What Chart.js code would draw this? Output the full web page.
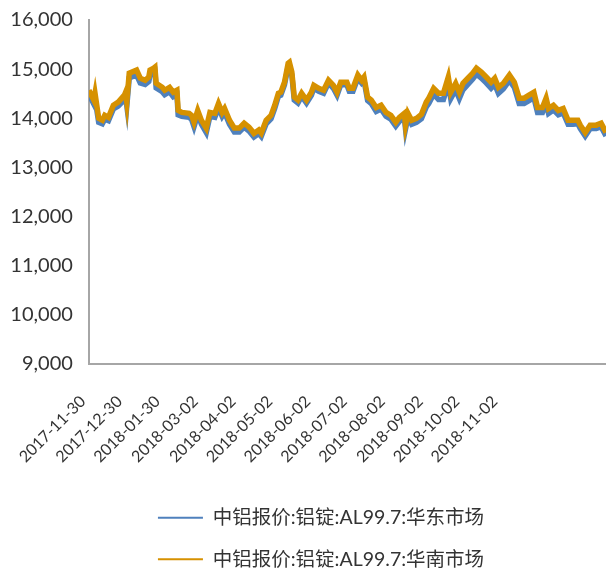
<!DOCTYPE html>
<html>
<head>
<meta charset="utf-8">
<script src="https://cdn.jsdelivr.net/npm/chart.js@4/dist/chart.umd.min.js"></script>
<style>
  html, body { margin: 0; padding: 0; background: #fff; }
  #wrap { width: 606px; height: 568px; }
</style>
</head>
<body>
<div id="wrap"><canvas id="alChart"></canvas></div>
<script>
// days since 2017-11-30
const days = [0, 4, 5, 8, 11, 13, 16, 20, 24, 29, 30, 31, 33, 39, 42, 46, 49, 50, 53, 54, 55, 60, 62, 66, 69, 72, 73, 76, 82, 84, 86, 89, 92, 96, 99, 103, 106, 109, 111, 115, 119, 123, 127, 131, 133, 135, 139, 141, 145, 149, 152, 155, 157, 160, 163, 164, 166, 168, 171, 174, 178, 182, 184, 188, 192, 196, 200, 203, 206, 211, 213, 216, 220, 223, 225, 228, 231, 235, 239, 243, 247, 251, 254, 258, 259, 261, 264, 268, 272, 276, 278, 282, 286, 290, 294, 296, 300, 303, 306, 310, 314, 317, 321, 325, 329, 332, 335, 339, 344, 348, 352, 356, 360, 364, 367, 371, 374, 376, 380, 384, 388, 392, 396, 400, 402, 406, 410, 415, 419, 423];

const eastChina = [14480, 14290, 14400, 13920, 13890, 13980, 13950, 14190, 14250, 14380, 14440, 14250, 14820, 14880, 14720, 14690, 14750, 14880, 14930, 14950, 14620, 14540, 14480, 14540, 14440, 14480, 14070, 14040, 14020, 13980, 13830, 14080, 13880, 13710, 14040, 14020, 14220, 14040, 14120, 13880, 13720, 13720, 13820, 13740, 13680, 13620, 13690, 13630, 13890, 13990, 14200, 14450, 14470, 14680, 15060, 15080, 14880, 14370, 14310, 14450, 14310, 14470, 14610, 14550, 14510, 14720, 14610, 14470, 14680, 14680, 14550, 14550, 14820, 14720, 14780, 14360, 14300, 14140, 14190, 14040, 13980, 13840, 13940, 14020, 13780, 14020, 13880, 13920, 13990, 14230, 14300, 14490, 14380, 14380, 14710, 14400, 14580, 14400, 14580, 14690, 14800, 14900, 14820, 14720, 14610, 14690, 14510, 14600, 14770, 14630, 14300, 14300, 14360, 14420, 14120, 14120, 14310, 14100, 14170, 14070, 14110, 13880, 13880, 13890, 13790, 13640, 13790, 13790, 13830, 13640];

const southChina = [14570, 14370, 14510, 14000, 13960, 14060, 14020, 14265, 14330, 14470, 14530, 14330, 14920, 14980, 14815, 14775, 14840, 14980, 15020, 15040, 14715, 14630, 14570, 14630, 14530, 14570, 14160, 14120, 14100, 14060, 13920, 14160, 13960, 13800, 14120, 14100, 14300, 14120, 14200, 13960, 13800, 13800, 13900, 13820, 13760, 13690, 13760, 13700, 13960, 14060, 14265, 14510, 14530, 14735, 15120, 15140, 14940, 14430, 14370, 14510, 14370, 14530, 14670, 14610, 14570, 14775, 14670, 14530, 14735, 14735, 14610, 14610, 14880, 14775, 14840, 14430, 14370, 14220, 14265, 14120, 14060, 13920, 14020, 14100, 13860, 14100, 13960, 14000, 14080, 14330, 14410, 14610, 14510, 14510, 14840, 14530, 14710, 14530, 14710, 14815, 14920, 15020, 14940, 14840, 14735, 14815, 14630, 14710, 14880, 14735, 14410, 14410, 14470, 14530, 14220, 14220, 14410, 14200, 14265, 14160, 14200, 13960, 13960, 13960, 13860, 13710, 13860, 13860, 13900, 13710];

const tickDays = [0, 30, 61, 92, 123, 153, 184, 214, 245, 276, 306, 337];
const tickLabels = ['2017-11-30', '2017-12-30', '2018-01-30', '2018-03-02', '2018-04-02', '2018-05-02', '2018-06-02', '2018-07-02', '2018-08-02', '2018-09-02', '2018-10-02', '2018-11-02'];

const seriesNames = ['中铝报价:铝锭:AL99.7:华东市场', '中铝报价:铝锭:AL99.7:华南市场'];

const toPoints = vals => vals.map((v, i) => ({ x: days[i], y: v }));
const FONT = "Lato, 'Noto Sans CJK SC', sans-serif";

// nudge legend like the original
const legendShift = {
    id: 'legendShift',
    afterUpdate(chart) {
        const lg = chart.legend;
        if (lg) {
            lg.left += 18;
            lg.right += 18;
            lg.top += 11;
            lg.bottom += 11;
        }
    }
};

const ctx = document.getElementById('alChart').getContext('2d');
new Chart(ctx, {
    type: 'line',
    data: {
        datasets: [{
            label: seriesNames[1],
            data: toPoints(southChina),
            borderColor: '#D69100',
            backgroundColor: '#D69100',
            borderWidth: 5.5,
            pointRadius: 0,
            tension: 0
        }, {
            label: seriesNames[0],
            data: toPoints(eastChina),
            borderColor: '#4F81BD',
            backgroundColor: '#4F81BD',
            borderWidth: 5.5,
            pointRadius: 0,
            tension: 0
        }]
    },
    options: {
        responsive: true,
        maintainAspectRatio: false,
        animation: false,
        layout: { padding: { top: 0, right: 0, left: 0, bottom: 0 } },
        plugins: {
            tooltip: { enabled: false },
            legend: {
                position: 'bottom',
                reverse: true,
                labels: {
                    boxWidth: 45,
                    boxHeight: 2,
                    padding: 22,
                    color: '#333',
                    font: { family: FONT, size: 19.5 },
                    generateLabels: chart => Chart.defaults.plugins.legend.labels.generateLabels(chart)
                        .map(l => ({ ...l, lineWidth: 0 }))
                }
            }
        },
        scales: {
            x: {
                type: 'linear',
                min: 0,
                max: 423,
                grid: { display: false, drawTicks: false },
                border: { color: '#A6A6A6', width: 2 },
                afterBuildTicks: scale => {
                    scale.ticks = tickDays.map(d => ({ value: d }));
                },
                afterFit: scale => {
                    scale.height = 111;
                },
                ticks: {
                    autoSkip: false,
                    maxRotation: 45,
                    minRotation: 45,
                    padding: 28,
                    labelOffset: -6,
                    color: '#333',
                    font: { family: FONT, size: 16 },
                    callback: v => tickLabels[tickDays.indexOf(v)]
                }
            },
            y: {
                min: 9000,
                max: 16000,
                grid: { display: false, drawTicks: false },
                border: { color: '#A6A6A6', width: 2 },
                afterFit: scale => {
                    scale.width = 85;
                    scale.paddingTop = 20;
                },
                ticks: {
                    stepSize: 1000,
                    padding: 16,
                    color: '#333',
                    font: { family: FONT, size: 20 },
                    callback: v => v.toLocaleString('en-US')
                }
            }
        }
    },
    plugins: [legendShift]
});
</script>
</body>
</html>
